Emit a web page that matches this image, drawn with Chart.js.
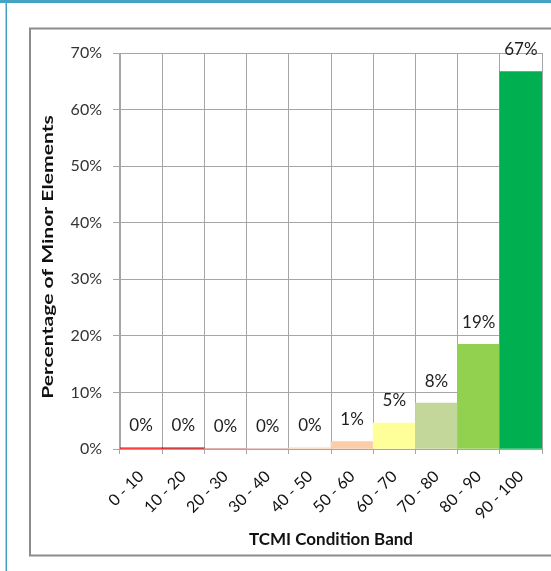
<!DOCTYPE html>
<html>
<head>
<meta charset="utf-8">
<script src="https://cdn.jsdelivr.net/npm/chart.js@4.4.1/dist/chart.umd.min.js"></script>
<style>
  html, body { margin: 0; padding: 0; background: #ffffff; overflow: hidden; }
  #wrap { position: relative; width: 551px; height: 571px; }
  canvas { display: block; }
</style>
</head>
<body>
<div id="wrap"><canvas id="bandChart" width="551" height="571"></canvas></div>
<script>
// TCMI condition bands and the share of minor elements falling in each (%)
const bands = ['0 - 10', '10 - 20', '20 - 30', '30 - 40', '40 - 50',
               '50 - 60', '60 - 70', '70 - 80', '80 - 90', '90 - 100'];
const shares = [0.2, 0.2, 0.1, 0.1, 0.2, 1.3, 4.6, 8.1, 18.5, 66.7];
const bandColours = ['#ff0000', '#c00000', '#d99694', '#e6b9b8', '#fcd5b5',
                     '#fbcda9', '#ffff99', '#c4d79b', '#92d050', '#00b050'];
const yTickValues = [0, 10, 20, 30, 40, 50, 60, 70];
const yTitle = 'Percentage of Minor Elements';
const xTitle = 'TCMI Condition Band';

const FONT = 'Lato, "Open Sans", sans-serif';
const GRID = '#a6a6a6';

// Page frame: blue header strip, blue left rule and the grey chart border
const framePlugin = {
  id: 'frame',
  beforeDraw(chart) {
    const ctx = chart.ctx;
    ctx.save();
    ctx.fillStyle = '#ffffff';
    ctx.fillRect(0, 0, chart.width, chart.height);
    ctx.fillStyle = '#45a3c4';
    ctx.fillRect(0, 0, chart.width, 3);
    ctx.fillRect(5.5, 3, 1.5, chart.height - 3);
    ctx.strokeStyle = '#8c8c8c';
    ctx.lineWidth = 2;
    ctx.beginPath();
    ctx.moveTo(chart.width + 5, 28.5);
    ctx.lineTo(30, 28.5);
    ctx.lineTo(30, 555.5);
    ctx.lineTo(chart.width + 5, 555.5);
    ctx.stroke();
    ctx.restore();
  }
};

// Vertical axis title, drawn in a tall narrow face
const yTitlePlugin = {
  id: 'yTitle',
  afterDraw(chart) {
    const ctx = chart.ctx;
    const area = chart.chartArea;
    ctx.save();
    ctx.translate(48, (area.top + area.bottom) / 2 + 6);
    ctx.rotate(-Math.PI / 2);
    ctx.scale(1.32, 1);
    ctx.font = 'bold 16px ' + FONT;
    ctx.fillStyle = '#111111';
    ctx.textAlign = 'center';
    ctx.textBaseline = 'middle';
    ctx.fillText(yTitle, 0, 0);
    ctx.restore();
  }
};

// Percentage labels above each bar
const valueLabels = {
  id: 'valueLabels',
  afterDatasetsDraw(chart) {
    const ctx = chart.ctx;
    const meta = chart.getDatasetMeta(0);
    const data = chart.data.datasets[0].data;
    ctx.save();
    ctx.font = '17px ' + FONT;
    ctx.fillStyle = '#1e1e1e';
    ctx.textAlign = 'center';
    ctx.textBaseline = 'middle';
    meta.data.forEach((bar, i) => {
      ctx.fillText(Math.round(data[i]) + '%', bar.x, bar.y - 22);
    });
    ctx.restore();
  }
};

new Chart(document.getElementById('bandChart'), {
  type: 'bar',
  data: {
    labels: bands,
    datasets: [{
      data: shares,
      backgroundColor: bandColours,
      borderWidth: 0,
      categoryPercentage: 1.0,
      barPercentage: 1.0
    }]
  },
  options: {
    responsive: false,
    animation: false,
    layout: { padding: { left: 36, right: 9, top: 53, bottom: 17 } },
    plugins: {
      legend: { display: false },
      tooltip: { enabled: false }
    },
    scales: {
      x: {
        grid: { color: GRID, tickLength: 5, offset: true },
        border: { color: GRID },
        ticks: {
          minRotation: 45, maxRotation: 45, padding: 13,
          color: '#111111',
          font: { family: FONT, size: 16 }
        },
        title: {
          display: true, text: xTitle, color: '#111111',
          font: { family: FONT, size: 17, weight: 'bold' }
        },
        afterFit(scale) { scale.height = 105; }
      },
      y: {
        min: 0, max: 70,
        afterBuildTicks(scale) { scale.ticks = yTickValues.map(v => ({ value: v })); },
        grid: { color: GRID, tickLength: 7 },
        border: { color: GRID },
        ticks: {
          padding: 11, color: '#333333',
          font: { family: FONT, size: 16 },
          callback: v => v + '%'
        },
        title: { display: false },
        afterFit(scale) { scale.width = 84; }
      }
    }
  },
  plugins: [framePlugin, valueLabels, yTitlePlugin]
});
</script>
</body>
</html>
